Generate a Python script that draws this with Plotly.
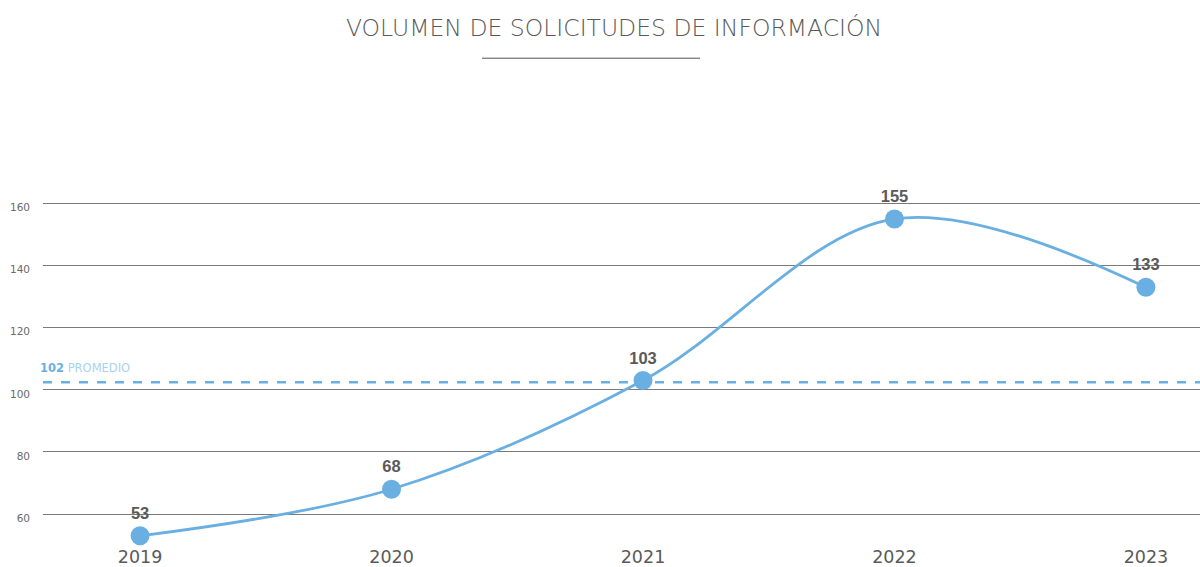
import plotly.graph_objects as go

years = [2019, 2020, 2021, 2022, 2023]
values = [53, 68, 103, 155, 133]
y_ticks = [60, 80, 100, 120, 140, 160]
average_value = sum(values) / len(values)
average_label = "102"
average_text = "PROMEDIO"
title_text = "VOLUMEN DE SOLICITUDES DE INFORMACIÓN"

BLUE = "#6aafe1"
GRAY = "#5a5a5a"
FONT = "DejaVu Sans"

W, H = 1200, 567
ML, MR, MT, MB = 43, 0, 100, 27
PW, PH = W - ML - MR, H - MT - MB

fig = go.Figure()

fig.add_trace(go.Scatter(
    x=years, y=values,
    mode="lines+markers+text",
    line=dict(color=BLUE, width=2.8, shape="spline", smoothing=1.0),
    marker=dict(color=BLUE, size=19),
    text=[str(v) for v in values],
    textposition="top center",
    textfont=dict(family="Liberation Sans", size=16.5, color=GRAY, weight="bold"),
    hoverinfo="skip",
    cliponaxis=False,
))

fig.add_shape(type="line", xref="paper", yref="y", x0=0, x1=1,
              y0=average_value, y1=average_value,
              line=dict(color=BLUE, width=2.5, dash="dash"), layer="above")

fig.add_annotation(xref="paper", yref="y", x=0, y=average_value,
                   xanchor="left", yanchor="bottom", yshift=5, xshift=-5,
                   showarrow=False,
                   text=f"<b>{average_label}</b> <span style='color:#a8d2f0'>{average_text}</span>",
                   font=dict(family=FONT, size=11.5, color=BLUE))

# title underline
fig.add_shape(type="line", xref="paper", yref="paper",
              x0=(482 - ML) / PW, x1=(700 - ML) / PW,
              y0=(H - MB - 58) / PH, y1=(H - MB - 58) / PH,
              line=dict(color="#555555", width=1))

fig.update_layout(
    width=W, height=H,
    margin=dict(l=ML, r=MR, t=MT, b=MB),
    paper_bgcolor="white", plot_bgcolor="white",
    showlegend=False,
    title=dict(text=title_text, x=614 / W, xanchor="center", y=1 - 28 / H, yanchor="middle",
               font=dict(family=FONT, size=23.5, color=GRAY, weight=300)),
    xaxis=dict(range=[2018.614, 2023.215], tickvals=years, ticktext=[str(y) for y in years],
               showgrid=False, zeroline=False, showline=False, ticks="",
               ticklabelstandoff=6,
               tickfont=dict(family=FONT, size=17.5, color=GRAY)),
    yaxis=dict(range=[52.3, 193.3], tickvals=y_ticks, showgrid=True, gridcolor="#7a7a7a",
               gridwidth=1, zeroline=False, showline=False, ticks="",
               ticklabelposition="outside", ticklabelshift=4, ticklabelstandoff=12,
               tickfont=dict(family=FONT, size=10.5, color="#6a6a6a")),
)

fig.write_html("out.html", config={"displayModeBar": False},
               post_script="document.body.style.margin='0';")
